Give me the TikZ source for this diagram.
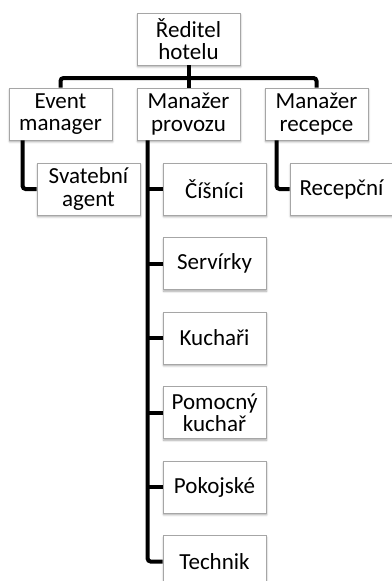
\documentclass[tikz,border=0pt]{standalone}
\usepackage{fontspec}
\setmainfont{Carlito}
\usetikzlibrary{shadows.blur,calc}
\begin{document}
\begin{tikzpicture}[x=1pt,y=1pt,
  box/.style={draw=black!35, line width=0.8pt, fill=white, minimum width=103pt, minimum height=52pt,
    inner sep=1pt, align=center, font=\fontsize{23}{22.5}\selectfont,
    blur shadow={shadow xshift=0.6pt, shadow yshift=-1.8pt, shadow blur steps=6, shadow opacity=35, shadow blur radius=2pt}},
  conn/.style={line width=4pt, black, rounded corners=3pt}]
\useasboundingbox (0,0) rectangle (391,-581);
\node[box] (top) at (188.5,-39) {Ředitel\\hotelu};
\node[box] (ev) at (60.5,-114) {Event\\manager};
\node[box] (pv) at (188.5,-114) {Manažer\\provozu};
\node[box] (rc) at (316.5,-114) {Manažer\\recepce};
\node[box] (sv) at (88.5,-189) {Svatební\\agent};
\node[box] (rn) at (341.5,-189) {Recepční};
\node[box] (c1) at (214.5,-189) {Číšníci};
\node[box] (c2) at (214.5,-263.5) {Servírky};
\node[box] (c3) at (214.5,-338) {Kuchaři};
\node[box] (c4) at (214.5,-412.5) {Pomocný\\kuchař};
\node[box] (c5) at (214.5,-487) {Pokojské};
\node[box] (c6) at (214.5,-561.5) {Technik};
\coordinate (bar) at (188.5,-78);
\draw[conn] (top.south) -- (pv.north);
\draw[conn] (ev.north) |- (bar) -| (rc.north);
\draw[conn] ([xshift=14pt]ev.south west) |- (sv.west);
\draw[conn] ([xshift=12pt]rc.south west) |- (rn.west);
\draw[conn] ([xshift=11pt]pv.south west) |- (c6.west);
\foreach \c in {c1,c2,c3,c4,c5}
  \draw[line width=4pt] ([xshift=11pt]pv.south west |- \c.west) -- (\c.west);
\end{tikzpicture}
\end{document}
